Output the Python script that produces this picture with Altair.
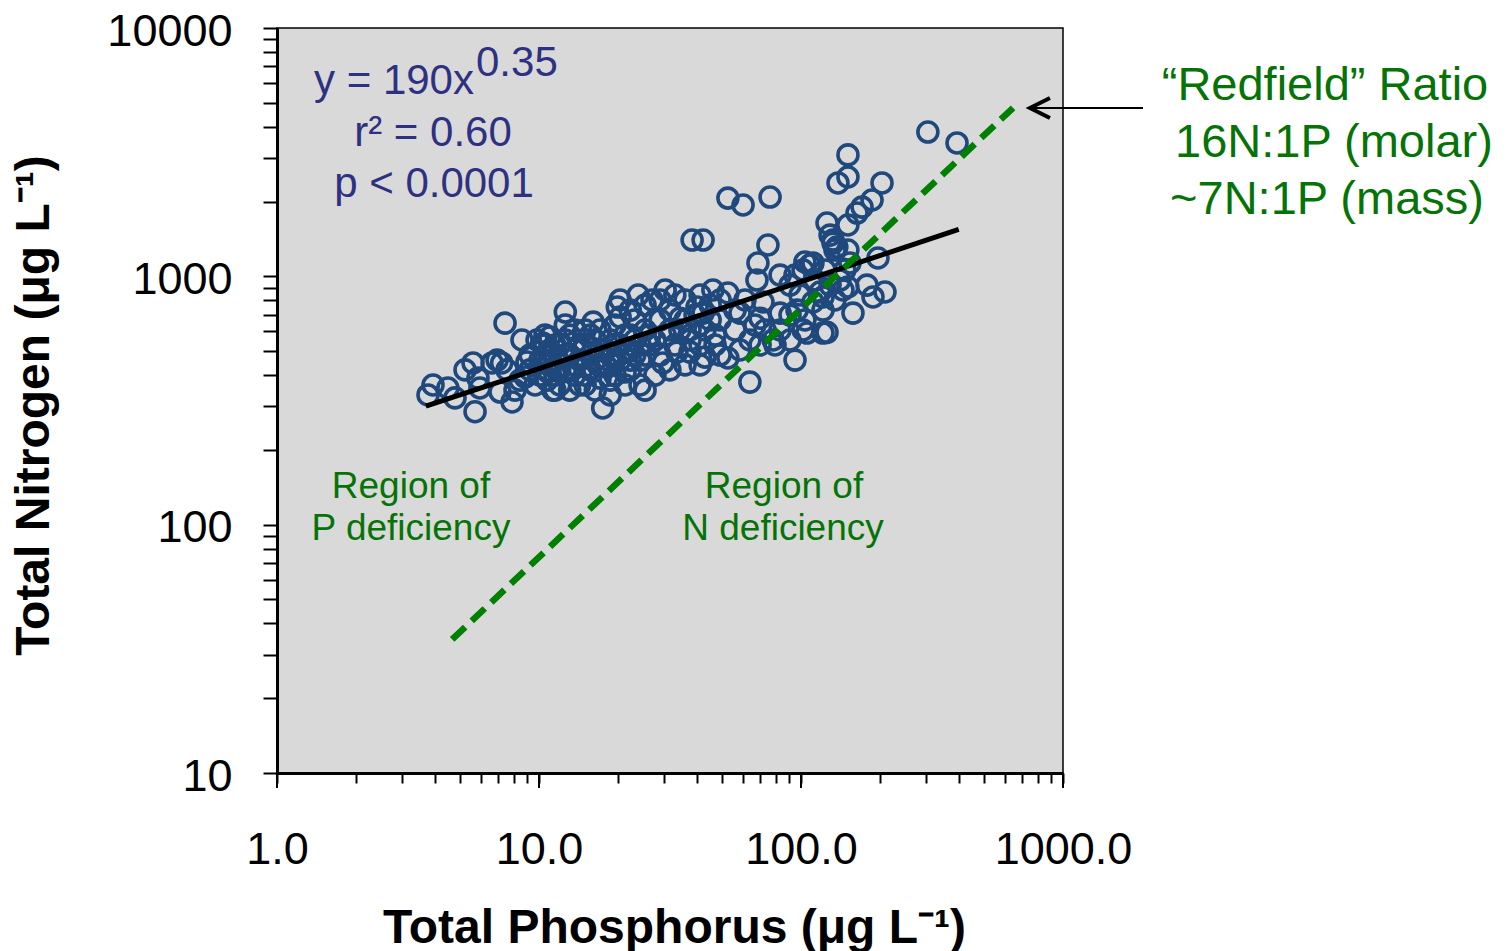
import altair as alt
import pandas as pd

# ---- scatter data (Total Phosphorus, Total Nitrogen), ug/L ----
tp = [3.77, 3.94, 4.49, 4.78, 5.22, 5.60, 5.70, 5.95, 5.85, 6.62, 6.92, 7.20, 7.42, 7.10, 7.89,
      8.61, 9.00, 8.85, 9.83, 10.36, 11.0, 10.3, 10.73, 11.3, 12.6, 12.6, 11.7, 11.5, 16.1, 19.9,
      20.4, 23.9, 27.0, 33.0, 36.1, 40.1, 17.5, 25.4, 22.3, 29.7, 33.6, 37.7, 16.1, 18.2, 7.55,
      52.6, 60.1, 76.2, 38.4, 42.3, 74.8, 68.5, 67.9, 83.2, 103.5, 111.1, 125.7, 132.5, 134.8, 151,
      138.4, 151.1, 151.1, 203.8, 186.7, 171, 163.6, 151, 196.7, 153.8, 108.2, 101.8, 151, 178.6, 188.3,
      209.2, 157.9, 121.3, 121.3, 125.7, 96.6, 305, 394, 137, 129.1, 132.5,
      46.1, 52.6, 71.6, 58.5, 42.3, 66.7, 83.2, 90.8, 101.8, 121.3, 111.1, 78.2, 43.0, 52.6, 94.9,
      63.8, 105.4, 144.6, 90.8, 99.1, 113, 118.2, 94.9, 61.1, 69.8, 56, 72.9, 49.1, 63.8, 47,
      41.2, 37.7, 34.5, 31.6, 29, 27.7, 83.2, 79.6, 90.8, 103.5, 134.8, 140.9, 123.5, 129.1, 147,
      12.0, 12.6, 13.1, 13.7, 14.3, 15.0, 15.0, 15.7, 16.4, 16.8, 17.1, 17.9, 18.7, 18.7, 19.5,
      19.5, 20.4, 21.3, 21.3, 22.3, 23.2, 23.2, 24.3, 25.4, 26.5, 27.7, 29.0, 30.3, 31.6, 33.0,
      34.5, 36.1, 37.7, 39.4, 41.2, 43.0, 45.0, 47.0, 10.54, 11.0, 10.09, 11.5, 12.0, 12.6, 13.1,
      13.7, 14.3, 15.7, 16.4, 17.1, 9.24, 9.66, 8.46, 8.10, 9.24, 10.54, 13.7, 20.4, 22.3, 25.4,
      29.0, 30.3, 41.2, 45.0, 49.1, 56.0, 27.7, 31.6, 36.1, 41.2, 49.1, 58.5, 69.8, 21.3, 24.3, 18.7,
      10.54, 11.0, 11.5, 12.0, 12.6, 13.1, 13.7, 14.3, 15.0, 15.7, 16.4, 17.1, 17.9, 18.7, 19.5,
      20.4, 21.3, 22.3, 23.2, 24.3, 25.4, 26.5, 11.5, 13.1, 15.0, 17.1, 19.5, 22.3, 10.09, 10.8]
tn = [333, 365, 355, 324, 420, 448, 285, 355, 389, 448, 460, 448, 648, 342, 312,
      554, 452, 393, 554, 538, 570, 448, 382, 348, 718, 637, 420, 348, 654, 752,
      685, 841, 803, 841, 803, 752, 295, 348, 420, 448, 495, 495, 495, 431, 420,
      2066, 1937, 2086, 1400, 1400, 1337, 1132, 966, 1011, 1142, 1132, 1640, 1400, 1276, 1610,
      2377, 2512, 3083, 2377, 2029, 1900, 1798, 1276, 1185, 1132, 1111, 1060, 906, 922, 826,
      865, 711, 826, 731, 595, 731, 3811, 3444, 1312, 1466, 1361,
      881, 857, 788, 711, 711, 637, 711, 698, 608, 591, 788, 554, 473, 469, 460,
      375, 591, 881, 922, 841, 966, 865, 1011, 803, 678, 608, 608, 667, 554, 580,
      637, 608, 678, 608, 667, 554, 608, 529, 554, 667, 803, 966, 1060, 922, 1060,
      529, 482, 580, 440, 529, 608, 400, 482, 554, 440, 608, 505, 554, 382, 637,
      460, 529, 580, 412, 505, 667, 554, 460, 608, 529, 667, 482, 580, 731, 529,
      608, 667, 554, 698, 529, 608, 667, 529, 482, 440, 400, 529, 365, 420, 348,
      505, 365, 420, 348, 389, 420, 365, 382, 348, 482, 580, 608, 803, 731, 766,
      803, 881, 841, 766, 803, 731, 400, 420, 440, 440, 482, 505, 529, 365, 365, 333,
      529, 505, 460, 420, 554, 482, 400, 460, 529, 580, 460, 505, 440, 482, 529,
      460, 505, 580, 482, 529, 482, 580, 400, 420, 365, 440, 400, 460, 460, 412]

# power-law fit y = 190 x^0.35 (straight on log-log): end points
fit_tp = [3.7, 400]
fit_tn = [300, 1545]

# Redfield mass ratio line (~7N:1P) end points
rf_tp = [4.66, 645]
rf_tn = [34.5, 4773]

# arrow pointing at the Redfield line
arrow_tp = [748]
arrow_tp2 = [2020]
arrow_tn = [4763]

x_ticks = [1, 2, 3, 4, 5, 6, 7, 8, 9, 10, 20, 30, 40, 50, 60, 70, 80, 90,
           100, 200, 300, 400, 500, 600, 700, 800, 900, 1000]
x_major = [1, 10, 100, 1000]
y_ticks = [10, 20, 30, 40, 50, 60, 70, 80, 90, 100, 200, 300, 400, 500, 600, 700, 800, 900,
           1000, 2000, 3000, 4000, 5000, 6000, 7000, 8000, 9000, 10000]

FONT = "Liberation Sans"
NAVY = "#2e3182"
GREEN_TXT = "#067306"
GREEN_LINE = "#008000"
PT = "#1f497d"

W, H = 786, 745

pts_df = pd.DataFrame({"TP": tp, "TN": tn})
fit_df = pd.DataFrame({"TP": fit_tp, "TN": fit_tn})
rf_df = pd.DataFrame({"TP": rf_tp, "TN": rf_tn})
arrow_df = pd.DataFrame({"TP": arrow_tp, "TP2": arrow_tp2, "TN": arrow_tn})
major_df = pd.DataFrame({"TP": x_major})

xscale = alt.Scale(type="log", domain=[1, 1000], nice=False)
yscale = alt.Scale(type="log", domain=[10, 10000], nice=False)

x_axis = alt.Axis(
    values=x_ticks,
    labelExpr="(datum.value == 1 || datum.value == 10 || datum.value == 100 || datum.value == 1000) ? format(datum.value, '.1f') : ''",
    tickSize=10,
    tickColor="black", tickWidth=2,
    domainColor="black", domainWidth=3,
    grid=False, labelFlush=False, labelOverlap=False,
    labelFont=FONT, labelFontSize=45, labelColor="black", labelPadding=44,
    title="Total Phosphorus (μg L⁻¹)", titleFont=FONT, titleFontSize=48,
    titleFontWeight="bold", titleColor="black",
    titleX=W / 2 + 4, titleY=155, titleBaseline="middle", titleAlign="center",
)
y_axis = alt.Axis(
    values=y_ticks,
    labelExpr="(datum.value == 10 || datum.value == 100 || datum.value == 1000 || datum.value == 10000) ? format(datum.value, 'd') : ''",
    tickSize=14, tickColor="black", tickWidth=2,
    domainColor="black", domainWidth=3,
    grid=False, labelFlush=False, labelOverlap=False,
    labelFont=FONT, labelFontSize=45, labelColor="black", labelPadding=31, labelOffset=3,
    title="Total Nitrogen (μg L⁻¹)", titleFont=FONT, titleFontSize=48,
    titleFontWeight="bold", titleColor="black",
    titleX=-243, titleY=377, titleBaseline="middle", titleAlign="center",
)


def X():
    return alt.X("TP:Q", scale=xscale, axis=x_axis)


def Y():
    return alt.Y("TN:Q", scale=yscale, axis=y_axis)


points = alt.Chart(pts_df).mark_point(
    shape="circle", filled=False, size=400, strokeWidth=3.6, color=PT, opacity=1
).encode(x=X(), y=Y())

fit = alt.Chart(fit_df).mark_line(color="black", strokeWidth=5).encode(x=X(), y=Y())

redfield = alt.Chart(rf_df).mark_line(
    color=GREEN_LINE, strokeWidth=6.5, strokeDash=[18, 9]
).encode(x=X(), y=Y())

arrow_line = alt.Chart(arrow_df).mark_rule(color="black", strokeWidth=1.8).encode(
    x=X(), x2="TP2:Q", y=Y()
)
arrow_head = alt.Chart(arrow_df).mark_point(
    shape="M2,-1L0,0L2,1", filled=False, size=400, strokeWidth=4,
    color="black", opacity=1
).encode(x=X(), y=Y())

# longer major ticks on the x axis
major_ticks = alt.Chart(major_df).mark_rule(color="black", strokeWidth=2).encode(
    x=X(), y=alt.value(H), y2=alt.value(H + 15)
)


def label(text, px, py, size, color, align="center"):
    return alt.Chart(pd.DataFrame({"t": [text]})).mark_text(
        font=FONT, fontSize=size, color=color, align=align, baseline="middle"
    ).encode(x=alt.value(px), y=alt.value(py), text="t:N")


texts = [
    label("y = 190x", 117, 53, 42, NAVY),
    label("0.35", 199, 35, 42, NAVY, align="left"),
    label("r² = 0.60", 156, 105, 42, NAVY),
    label("p < 0.0001", 157, 156, 42, NAVY),
    label("Region of", 134, 459, 37, GREEN_TXT),
    label("P deficiency", 134, 501, 37, GREEN_TXT),
    label("Region of", 507, 459, 37, GREEN_TXT),
    label("N deficiency", 506, 501, 37, GREEN_TXT),
    label("“Redfield” Ratio", 1048, 58, 47, GREEN_TXT),
    label("16N:1P (molar)", 1057, 115, 47, GREEN_TXT),
    label("~7N:1P (mass)", 1050, 172, 47, GREEN_TXT),
]

chart = alt.layer(points, fit, redfield, arrow_line, arrow_head, major_ticks, *texts).properties(
    width=W, height=H,
    background="white",
    autosize=alt.AutoSizeParams(type="none"),
    padding={"left": 277, "top": 28, "right": 448, "bottom": 178},
).configure_view(
    fill="#d9d9d9", stroke="black", strokeWidth=1.5
)

chart.save("out.html", embed_options={"renderer": "svg", "actions": False})
